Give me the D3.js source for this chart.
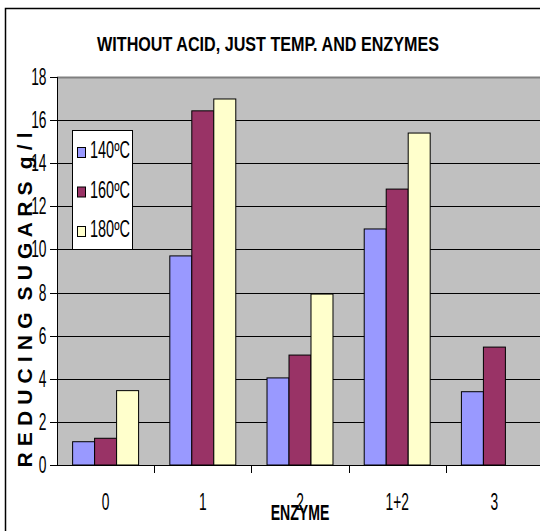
<!DOCTYPE html>
<html><head><meta charset="utf-8">
<script src="https://cdn.jsdelivr.net/npm/d3@7"></script>
<style>
html,body{margin:0;padding:0;background:#fff;overflow:hidden}
text{font-family:"Liberation Sans",Arial,sans-serif;fill:#000}
</style></head>
<body>
<script>
const categories = ["0", "1", "2", "1+2", "3"];
const seriesNames = ["140ºC", "160ºC", "180ºC"];
const s140 = [1.08, 9.7, 4.04, 10.95, 3.4];
const s160 = [1.24, 16.43, 5.1, 12.8, 5.47];
const s180 = [3.45, 16.98, 7.93, 15.4, null];
const yTicks = [0, 2, 4, 6, 8, 10, 12, 14, 16, 18];
const colors = ["#9999FF", "#993366", "#FFFFCC"];
const seriesValues = [s140, s160, s180];

const W = 540, H = 531;
const svg = d3.select("body").append("svg").attr("width", W).attr("height", H);

// outer chart border
svg.append("rect").attr("x", 5.5).attr("y", 8.5).attr("width", 560).attr("height", 560)
  .attr("fill", "#fff").attr("stroke", "#000").attr("stroke-width", 1.5);

const plotL = 57, plotR = 543, plotT = 77, plotB = 465;
const y = d3.scaleLinear().domain([0, 18]).range([plotB, plotT]);
const x0 = d3.scaleBand().domain(categories).range([plotL, plotR]).padding(0);
const x1 = d3.scaleBand().domain(seriesNames).range([0, x0.bandwidth()]).paddingInner(0).paddingOuter(0.71);

// plot background
svg.append("rect").attr("x", plotL).attr("y", plotT).attr("width", plotR - plotL).attr("height", plotB - plotT)
  .attr("fill", "#C0C0C0");

// gridlines
svg.append("g").selectAll("line").data(yTicks.filter(t => t > 0)).join("line")
  .attr("x1", plotL).attr("x2", plotR)
  .attr("y1", d => Math.round(y(d)) + 0.5).attr("y2", d => Math.round(y(d)) + 0.5)
  .attr("stroke", d => d === 18 ? "#808080" : "#000").attr("stroke-width", d => d === 18 ? 2 : 1);

// bars
const barData = [];
categories.forEach((c, i) => {
  seriesNames.forEach((s, j) => {
    const v = seriesValues[j][i];
    if (v != null) barData.push({ c, s, v, j });
  });
});
svg.append("g").selectAll("rect").data(barData).join("rect")
  .attr("x", d => x0(d.c) + x1(d.s))
  .attr("y", d => y(d.v))
  .attr("width", x1.bandwidth())
  .attr("height", d => plotB - y(d.v))
  .attr("fill", d => colors[d.j])
  .attr("stroke", "#000").attr("stroke-width", 1);

// y axis
const yAxis = svg.append("g");
yAxis.append("line").attr("x1", plotL + 0.5).attr("x2", plotL + 0.5).attr("y1", plotT).attr("y2", plotB)
  .attr("stroke", "#000").attr("stroke-width", 1);
yAxis.selectAll("line.tick").data(yTicks).join("line").attr("class", "tick")
  .attr("x1", plotL - 7).attr("x2", plotL)
  .attr("y1", d => Math.round(y(d)) + 0.5).attr("y2", d => Math.round(y(d)) + 0.5)
  .attr("stroke", "#000");
yAxis.selectAll("text").data(yTicks).join("text")
  .attr("transform", d => `translate(46.5,${y(d)}) scale(0.6,1)`)
  .attr("text-anchor", "end").attr("dy", "0.35em")
  .style("font-size", "23px")
  .text(d => d);

// x axis
const xAxis = svg.append("g");
xAxis.append("line").attr("x1", plotL).attr("x2", plotR).attr("y1", plotB + 0.5).attr("y2", plotB + 0.5)
  .attr("stroke", "#000");
xAxis.selectAll("line.tick").data(categories.slice(1)).join("line").attr("class", "tick")
  .attr("x1", d => Math.round(x0(d)) + 0.5).attr("x2", d => Math.round(x0(d)) + 0.5)
  .attr("y1", plotB).attr("y2", plotB + 8).attr("stroke", "#000");
xAxis.selectAll("text").data(categories).join("text")
  .attr("transform", d => `translate(${x0(d) + x0.bandwidth() / 2},510) scale(0.6,1)`)
  .attr("text-anchor", "middle")
  .style("font-size", "23px")
  .text(d => d);

// x axis title
svg.append("text")
  .attr("transform", `translate(300,520) scale(0.64,1)`)
  .attr("text-anchor", "middle")
  .style("font-size", "22px").style("font-weight", "bold")
  .text("ENZYME");

// y axis title
svg.append("text")
  .attr("transform", `translate(32,300) rotate(-90)`)
  .attr("text-anchor", "middle")
  .attr("textLength", 335).attr("lengthAdjust", "spacing")
  .style("font-size", "21px").style("font-weight", "bold").style("white-space", "pre")
  .text("R E D U C I N G  S U G A R S  g / l");

// title
const title = svg.append("text")
  .attr("text-anchor", "middle")
  .style("font-size", "21px").style("font-weight", "bold")
  .text("WITHOUT ACID, JUST TEMP. AND ENZYMES");
const tw = title.node().getComputedTextLength() || 400;
title.attr("transform", `translate(268,51) scale(${342 / tw},1)`);

// legend
const lg = svg.append("g");
lg.append("rect").attr("x", 72.5).attr("y", 130.5).attr("width", 60).attr("height", 119)
  .attr("fill", "#fff").attr("stroke", "#000").attr("stroke-width", 1);
const items = lg.selectAll("g.item").data(seriesNames).join("g").attr("class", "item")
  .attr("transform", (d, i) => `translate(0,${158 + i * 39.5})`);
items.append("rect").attr("x", 77.5).attr("y", -10.5).attr("width", 8).attr("height", 10)
  .attr("fill", (d, i) => colors[i]).attr("stroke", "#000");
items.append("text")
  .attr("transform", "translate(90,0) scale(0.63,1)")
  .style("font-size", "23px")
  .text(d => d);
</script>
</body></html>
